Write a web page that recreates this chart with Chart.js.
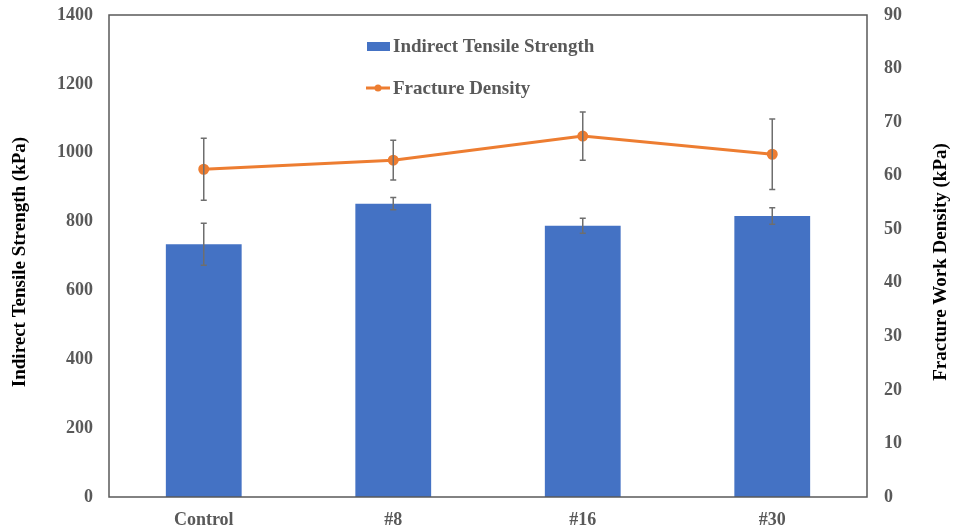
<!DOCTYPE html>
<html>
<head>
<meta charset="utf-8">
<script src="https://cdn.jsdelivr.net/npm/chart.js@4.4.0/dist/chart.umd.min.js"></script>
<style>
  html, body { margin: 0; padding: 0; background: #fff; }
  #wrap { width: 954px; height: 532px; }
</style>
</head>
<body>
<div id="wrap"><canvas id="chart" width="954" height="532"></canvas></div>
<script>
// categories and series values
var categories = ['Control', '#8', '#16', '#30'];
var tensileStrength = [734, 852, 788, 816];       // kPa, left axis
var tensileError = [61, 18, 22, 24];
var fractureDensity = [61.2, 62.9, 67.4, 64.0];   // kPa, right axis
var fractureError = [5.8, 3.7, 4.5, 6.6];
var leftTicks = [0, 200, 400, 600, 800, 1000, 1200, 1400];
var rightTicks = [0, 10, 20, 30, 40, 50, 60, 70, 80, 90];
var leftTitle = 'Indirect Tensile Strength (kPa)';
var rightTitle = 'Fracture Work Density (kPa)';

var serif = "'Liberation Serif', 'Times New Roman', serif";
var tickGray = '#595959';

// error bars drawn through the chart's own scales
var errorBars = {
    id: 'errorBars',
    afterDatasetsDraw: function (chart) {
        var ctx = chart.ctx;
        chart.data.datasets.forEach(function (ds, i) {
            if (!ds.errors) return;
            var meta = chart.getDatasetMeta(i);
            var scale = chart.scales[ds.yAxisID];
            ctx.save();
            ctx.strokeStyle = '#6e6e6e';
            ctx.lineWidth = 1.5;
            meta.data.forEach(function (el, j) {
                var x = el.x;
                var top = scale.getPixelForValue(ds.data[j] + ds.errors[j]);
                var bot = scale.getPixelForValue(ds.data[j] - ds.errors[j]);
                ctx.beginPath();
                ctx.moveTo(x, top); ctx.lineTo(x, bot);
                ctx.moveTo(x - 3, top); ctx.lineTo(x + 3, top);
                ctx.moveTo(x - 3, bot); ctx.lineTo(x + 3, bot);
                ctx.stroke();
            });
            ctx.restore();
        });
    }
};

function verticalTitle(ctx, text, x, y) {
    ctx.save();
    ctx.translate(x, y);
    ctx.rotate(-Math.PI / 2);
    ctx.font = 'bold 19px ' + serif;
    ctx.fillStyle = '#000';
    ctx.textAlign = 'center';
    ctx.textBaseline = 'middle';
    ctx.fillText(text, 0, 0);
    ctx.restore();
}

// plot box, axis titles (both read bottom to top) and in-plot legend
var frameAndLegend = {
    id: 'frameAndLegend',
    afterDraw: function (chart) {
        var ctx = chart.ctx;
        var a = chart.chartArea;
        ctx.save();
        ctx.strokeStyle = '#595959';
        ctx.lineWidth = 1.5;
        ctx.strokeRect(a.left, a.top, a.right - a.left, a.bottom - a.top);

        var mid = (a.top + a.bottom) / 2 + 6;
        verticalTitle(ctx, leftTitle, 20, mid);
        verticalTitle(ctx, rightTitle, 941, mid);

        ctx.font = 'bold 19px ' + serif;
        ctx.textBaseline = 'middle';
        ctx.textAlign = 'left';

        ctx.fillStyle = '#4472C4';
        ctx.fillRect(367, 42, 23, 9);
        ctx.fillStyle = tickGray;
        ctx.fillText('Indirect Tensile Strength', 393, 47);

        ctx.strokeStyle = '#ED7D31';
        ctx.lineWidth = 3;
        ctx.beginPath();
        ctx.moveTo(366, 88); ctx.lineTo(390, 88);
        ctx.stroke();
        ctx.fillStyle = '#ED7D31';
        ctx.beginPath();
        ctx.arc(378, 88, 3.5, 0, Math.PI * 2);
        ctx.fill();
        ctx.fillStyle = tickGray;
        ctx.fillText('Fracture Density', 393, 89);
        ctx.restore();
    }
};

function noPad(s) {
    s.paddingTop = 0;
    s.paddingBottom = 0;
    s.paddingLeft = 0;
    s.paddingRight = 0;
}

var ctx1 = document.getElementById('chart').getContext('2d');
var chart = new Chart(ctx1, {
    data: {
        labels: categories,
        datasets: [{
            type: 'line',
            label: 'Fracture Density',
            data: fractureDensity,
            errors: fractureError,
            yAxisID: 'y1',
            borderColor: '#ED7D31',
            backgroundColor: '#ED7D31',
            borderWidth: 3,
            pointRadius: 4,
            pointHoverRadius: 4,
            tension: 0,
            order: 0
        }, {
            type: 'bar',
            label: 'Indirect Tensile Strength',
            data: tensileStrength,
            errors: tensileError,
            yAxisID: 'y',
            backgroundColor: '#4472C4',
            barPercentage: 0.4,
            categoryPercentage: 1.0,
            order: 1
        }]
    },
    plugins: [errorBars, frameAndLegend],
    options: {
        responsive: false,
        animation: false,
        layout: { padding: { top: 15, left: 0, right: 8, bottom: 0 } },
        plugins: {
            legend: { display: false },
            tooltip: { enabled: false }
        },
        scales: {
            x: {
                grid: { display: false, drawTicks: false },
                border: { display: false },
                ticks: {
                    color: tickGray,
                    font: { family: serif, size: 18, weight: 'bold' },
                    padding: 13
                },
                afterFit: function (s) { s.height = 35; noPad(s); }
            },
            y: {
                position: 'left',
                min: 0,
                max: 1400,
                afterBuildTicks: function (s) {
                    s.ticks = leftTicks.map(function (v) { return { value: v }; });
                },
                grid: { display: false, drawTicks: false },
                border: { display: false },
                ticks: {
                    color: tickGray,
                    font: { family: serif, size: 18, weight: 'bold' },
                    padding: 16,
                    callback: function (v) { return String(v); }
                },
                afterFit: function (s) { s.width = 109; noPad(s); }
            },
            y1: {
                position: 'right',
                min: 0,
                max: 90,
                afterBuildTicks: function (s) {
                    s.ticks = rightTicks.map(function (v) { return { value: v }; });
                },
                grid: { display: false, drawTicks: false },
                border: { display: false },
                ticks: {
                    color: tickGray,
                    font: { family: serif, size: 18, weight: 'bold' },
                    padding: 17,
                    callback: function (v) { return String(v); }
                },
                afterFit: function (s) { s.width = 79; noPad(s); }
            }
        }
    }
});
</script>
</body>
</html>
